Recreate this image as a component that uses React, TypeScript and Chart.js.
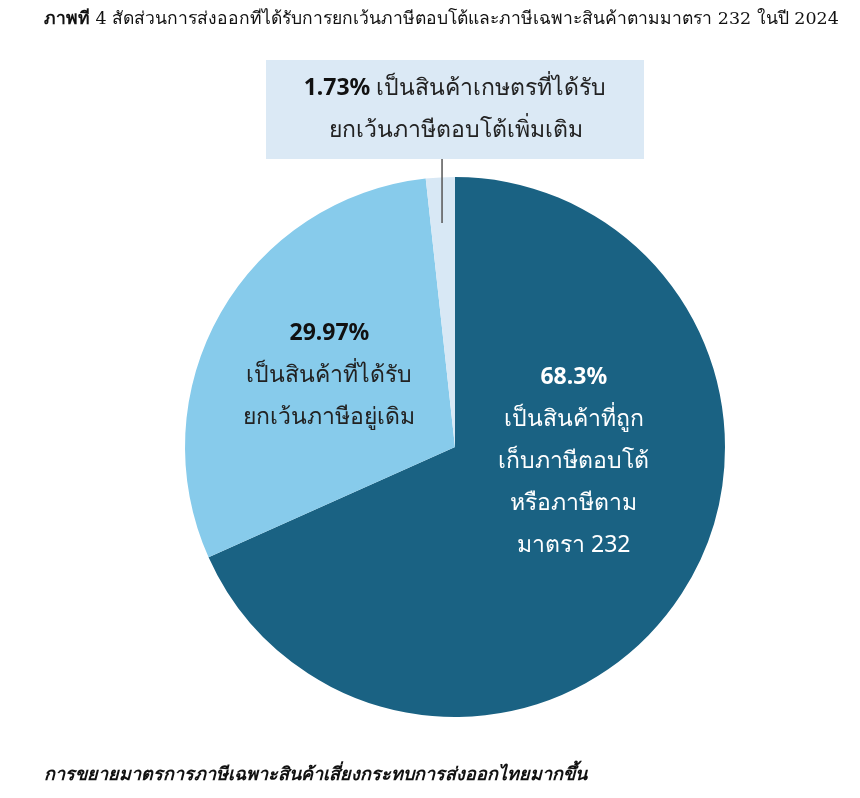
import React, { useEffect, useRef } from "react";
import { Chart, registerables } from "chart.js";

Chart.register(...registerables);

const categories = [
  "เป็นสินค้าที่ถูกเก็บภาษีตอบโต้หรือภาษีตามมาตรา 232",
  "เป็นสินค้าที่ได้รับยกเว้นภาษีอยู่เดิม",
  "เป็นสินค้าเกษตรที่ได้รับยกเว้นภาษีตอบโต้เพิ่มเติม",
];
const shares = [68.3, 29.97, 1.73];
const colors = ["#1a6283", "#87cbeb", "#d8e8f5"];
const pctLabels = ["68.3%", "29.97%", "1.73%"];
const darkLines = ["เป็นสินค้าที่ถูก", "เก็บภาษีตอบโต้", "หรือภาษีตาม", "มาตรา 232"];
const lightLines = ["เป็นสินค้าที่ได้รับ", "ยกเว้นภาษีอยู่เดิม"];
const calloutRest = " เป็นสินค้าเกษตรที่ได้รับ";
const calloutLine2 = "ยกเว้นภาษีตอบโต้เพิ่มเติม";

const FONT = "'Noto Sans', 'Open Sans', sans-serif";

const labelPlugin = {
  id: "sliceLabels",
  afterDraw(chart: any) {
    const ctx = chart.ctx as CanvasRenderingContext2D;
    const meta = chart.getDatasetMeta(0);
    const arc = meta.data[0];
    if (!arc) return;
    const { x: cx, y: cy, outerRadius: r } = arc.getProps(["x", "y", "outerRadius"], true);
    ctx.save();
    ctx.textAlign = "center";
    ctx.textBaseline = "middle";
    const lh = 42;

    // dark slice label
    const dx = cx + r * 0.44;
    let y = cy - r * 0.25 - 2;
    ctx.fillStyle = "#ffffff";
    ctx.font = `bold 23px ${FONT}`;
    ctx.fillText(pctLabels[0], dx, y);
    ctx.font = `23px ${FONT}`;
    darkLines.forEach((t, i) => ctx.fillText(t, dx, y + lh * (i + 1)));

    // light slice label
    const lx = cx - r * 0.465;
    y = cy - r * 0.41 - 3;
    ctx.fillStyle = "#111111";
    ctx.font = `bold 23px ${FONT}`;
    ctx.fillText(pctLabels[1], lx, y);
    ctx.font = `23px ${FONT}`;
    ctx.fillStyle = "#222222";
    lightLines.forEach((t, i) => ctx.fillText(t, lx, y + lh * (i + 1)));

    // callout box
    const bx = cx - r * 0.7;
    const bw = r * 1.4;
    const by = cy - r - 117;
    const bh = 99;
    ctx.fillStyle = "#dbe9f5";
    ctx.fillRect(bx, by, bw, bh);
    // connector line
    ctx.strokeStyle = "#555555";
    ctx.lineWidth = 1.5;
    ctx.beginPath();
    const lxLine = cx - r * 0.048;
    ctx.moveTo(lxLine, by + bh);
    ctx.lineTo(lxLine, cy - r + 46);
    ctx.stroke();

    // callout text
    ctx.font = `bold 23px ${FONT}`;
    const w1 = ctx.measureText(pctLabels[2]).width;
    ctx.font = `23px ${FONT}`;
    const w2 = ctx.measureText(calloutRest).width;
    const startX = cx - (w1 + w2) / 2;
    ctx.textAlign = "left";
    ctx.fillStyle = "#111111";
    ctx.font = `bold 23px ${FONT}`;
    ctx.fillText(pctLabels[2], startX, by + 28);
    ctx.font = `23px ${FONT}`;
    ctx.fillStyle = "#222222";
    ctx.fillText(calloutRest, startX + w1, by + 28);
    ctx.textAlign = "center";
    ctx.fillText(calloutLine2, cx + 1, by + 70);
    ctx.restore();
  },
};

export default function App() {
  const ref = useRef<HTMLCanvasElement>(null);
  useEffect(() => {
    if (!ref.current) return;
    const chart = new Chart(ref.current, {
      type: "pie",
      data: {
        labels: categories,
        datasets: [
          {
            data: shares,
            backgroundColor: colors,
            borderWidth: 0,
          },
        ],
      },
      options: {
        responsive: false,
        animation: false,
        layout: { padding: { left: 177, right: 127, top: 169, bottom: 73 } },
        plugins: {
          legend: { display: false },
          tooltip: { enabled: false },
        },
      },
      plugins: [labelPlugin],
    });
    return () => chart.destroy();
  }, []);

  return (
    <div style={{ position: "relative", width: 844, height: 782, background: "#fff" }}>
      <canvas ref={ref} width={844} height={782} style={{ position: "absolute", left: 0, top: 0 }} />
      <div
        style={{
          position: "absolute",
          left: 36,
          top: 0,
          fontFamily: "'DejaVu Serif', serif",
          fontSize: 17.5,
          color: "#111",
          whiteSpace: "nowrap",
          lineHeight: "21px",
        }}
      >
        <b>ภาพที่</b> 4 สัดส่วนการส่งออกที่ได้รับการยกเว้นภาษีตอบโต้และภาษีเฉพาะสินค้าตามมาตรา 232 ในปี 2024
      </div>
      <div
        style={{
          position: "absolute",
          left: 36,
          top: 755,
          fontFamily: "'DejaVu Sans', sans-serif",
          fontSize: 18,
          fontWeight: "bold",
          fontStyle: "italic",
          color: "#111",
          whiteSpace: "nowrap",
          lineHeight: "22px",
        }}
      >
        การขยายมาตรการภาษีเฉพาะสินค้าเสี่ยงกระทบการส่งออกไทยมากขึ้น
      </div>
    </div>
  );
}
